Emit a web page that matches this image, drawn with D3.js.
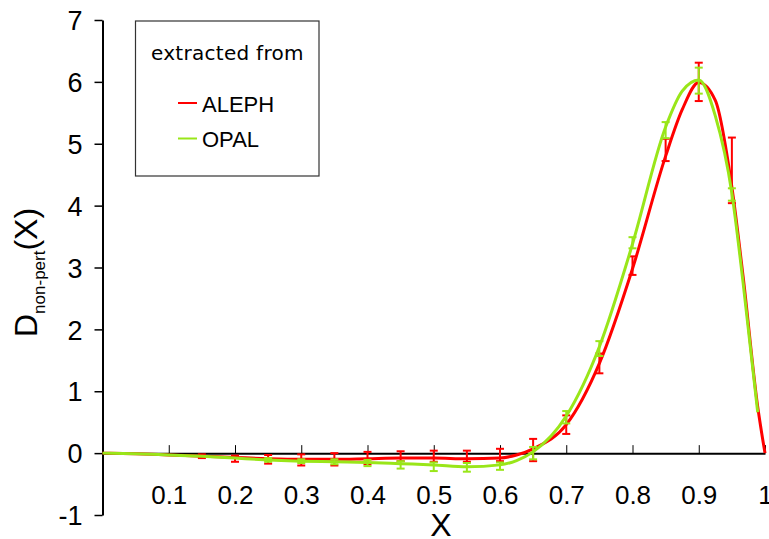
<!DOCTYPE html>
<html>
<head>
<meta charset="utf-8">
<script src="https://cdn.jsdelivr.net/npm/d3@7"></script>
<style>
  body { margin: 0; background: #fff; }
  text { font-family: "Liberation Sans", Arial, sans-serif; fill: #000; }
</style>
</head>
<body>
<div id="chart"></div>
<script>
// smooth curves (fits)
var curveX     = [0, 0.05, 0.1, 0.15, 0.2, 0.25, 0.3, 0.35, 0.4, 0.45, 0.5, 0.55, 0.6, 0.625, 0.65, 0.7, 0.75, 0.8, 0.85, 0.875, 0.9, 0.925, 0.95, 0.967, 0.989, 1.0];
var alephCurve = [0, -0.01, -0.03, -0.05, -0.07, -0.09, -0.1, -0.1, -0.09, -0.08, -0.08, -0.09, -0.08, -0.03, 0.07, 0.46, 1.45, 2.98, 4.8, 5.55, 5.99, 5.7, 4.3, 2.85, 0.75, 0];
var opalCurve  = [0, -0.01, -0.03, -0.05, -0.08, -0.11, -0.13, -0.14, -0.15, -0.17, -0.19, -0.22, -0.19, -0.12, 0.02, 0.6, 1.72, 3.38, 5.27, 5.85, 6.03, 5.45, 4.2, 2.75, 0.66, null];

// data points with errors
var alephX   = [0.15, 0.2, 0.25, 0.3, 0.35, 0.4, 0.45, 0.5, 0.55, 0.6, 0.65, 0.7, 0.75, 0.8, 0.85, 0.9, 0.95];
var alephVal = [-0.05, -0.09, -0.1, -0.11, -0.1, -0.08, -0.05, -0.05, -0.05, -0.03, 0.05, 0.46, 1.45, 3.03, 4.9, 6.0, 4.57];
var alephErr = [0.03, 0.05, 0.07, 0.09, 0.1, 0.1, 0.08, 0.09, 0.09, 0.1, 0.18, 0.15, 0.16, 0.15, 0.18, 0.31, 0.53];

var opalX   = [0.25, 0.3, 0.35, 0.4, 0.45, 0.5, 0.55, 0.6, 0.65, 0.7, 0.75, 0.8, 0.85, 0.9, 0.95];
var opalVal = [-0.11, -0.13, -0.14, -0.16, -0.19, -0.22, -0.23, -0.21, 0.0, 0.58, 1.69, 3.4, 5.22, 6.02, 4.18];
var opalErr = [0.03, 0.03, 0.04, 0.05, 0.06, 0.07, 0.07, 0.06, 0.1, 0.1, 0.12, 0.09, 0.13, 0.21, 0.1];

var xTicks = [0.1, 0.2, 0.3, 0.4, 0.5, 0.6, 0.7, 0.8, 0.9, 1];
var yTicks = [-1, 0, 1, 2, 3, 4, 5, 6, 7];

var series = [
  {name: "ALEPH", color: "#ff0000", curve: alephCurve, px: alephX, pv: alephVal, pe: alephErr},
  {name: "OPAL",  color: "#99e619", curve: opalCurve,  px: opalX,  pv: opalVal,  pe: opalErr}
];

var width = 769, height = 539;

var x = d3.scaleLinear().domain([0, 1]).range([102.5, 765]);
var y = d3.scaleLinear().domain([-1, 7]).range([515, 20]);

var svg = d3.select("#chart").append("svg")
  .attr("width", width)
  .attr("height", height);

// y axis
var yAxis = svg.append("g")
  .attr("transform", "translate(" + x(0) + ",0)")
  .call(d3.axisLeft(y).tickValues(yTicks).tickSize(8).tickSizeOuter(0).tickPadding(12)
    .tickFormat(function(d){ return String(d); }));
yAxis.select(".domain").attr("stroke", "#000").attr("stroke-width", 2);
yAxis.selectAll(".tick line").attr("stroke", "#000").attr("stroke-width", 1.5);
yAxis.selectAll("text").style("font-size", "27px").attr("dy", "0.36em");

// x axis on y = 0, ticks pointing up
var xAxis = svg.append("g")
  .attr("transform", "translate(0," + y(0) + ")")
  .call(d3.axisBottom(x).tickValues(xTicks).tickSize(-8).tickSizeOuter(0).tickPadding(32)
    .tickFormat(function(d){ return d === 1 ? "1" : d.toFixed(1); }));
xAxis.select(".domain").attr("stroke", "#000").attr("stroke-width", 2);
xAxis.selectAll(".tick line").attr("stroke", "#000").attr("stroke-width", 1);
xAxis.selectAll("text").style("font-size", "26px");

// axis titles
svg.append("text")
  .attr("x", 441)
  .attr("y", 536)
  .attr("text-anchor", "middle")
  .style("font-size", "32px")
  .text("X");

var ylab = svg.append("text")
  .attr("transform", "translate(37,337) rotate(-90)")
  .style("font-size", "32px");
ylab.append("tspan").text("D");
ylab.append("tspan").attr("dy", 8).style("font-size", "17px").text("non-pert");
ylab.append("tspan").attr("dy", -8).text("(X)");

var line = d3.line()
  .defined(function(d){ return d[1] !== null; })
  .x(function(d){ return x(d[0]); })
  .y(function(d){ return y(d[1]); })
  .curve(d3.curveMonotoneX);

series.forEach(function(s) {
  svg.append("path")
    .datum(curveX.map(function(v, i){ return [v, s.curve[i]]; }))
    .attr("d", line)
    .attr("fill", "none")
    .attr("stroke", s.color)
    .attr("stroke-width", 3);

  var pts = s.px.map(function(v, i){ return {x: v, v: s.pv[i], e: s.pe[i]}; });
  var g = svg.append("g").attr("stroke", s.color).attr("stroke-width", 2);
  g.selectAll(".bar").data(pts).enter().append("line")
    .attr("x1", function(d){ return x(d.x); })
    .attr("x2", function(d){ return x(d.x); })
    .attr("y1", function(d){ return y(d.v + d.e); })
    .attr("y2", function(d){ return y(d.v - d.e); });
  [1, -1].forEach(function(sg) {
    g.selectAll(".cap" + sg).data(pts).enter().append("line")
      .attr("x1", function(d){ return x(d.x) - 4; })
      .attr("x2", function(d){ return x(d.x) + 4; })
      .attr("y1", function(d){ return y(d.v + sg * d.e); })
      .attr("y2", function(d){ return y(d.v + sg * d.e); });
  });
});

// legend
var legend = svg.append("g");
legend.append("rect")
  .attr("x", 135.5).attr("y", 21)
  .attr("width", 183.5).attr("height", 155)
  .attr("fill", "#fff")
  .attr("stroke", "#333")
  .attr("stroke-width", 1.2);
legend.append("text")
  .attr("x", 227).attr("y", 60)
  .attr("text-anchor", "middle")
  .attr("textLength", 152)
  .style("font-family", "'DejaVu Sans', sans-serif")
  .style("font-size", "20px")
  .style("letter-spacing", "-0.5px")
  .text("extracted from");

series.forEach(function(s, i) {
  var ly = 103 + i * 35.5;
  legend.append("line")
    .attr("x1", 178).attr("x2", 197)
    .attr("y1", ly).attr("y2", ly)
    .attr("stroke", s.color)
    .attr("stroke-width", 2);
  legend.append("text")
    .attr("x", 202).attr("y", ly + 8.5)
    .style("font-size", "22px")
    .text(s.name);
});
</script>
</body>
</html>
